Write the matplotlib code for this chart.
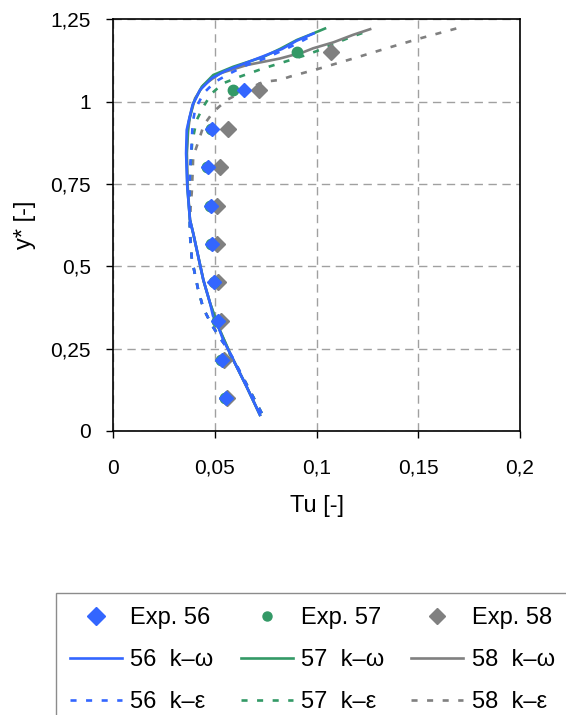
import matplotlib
matplotlib.use("Agg")
import matplotlib.pyplot as plt
from matplotlib.lines import Line2D

plt.rcParams['font.family'] = ['Liberation Sans', 'DejaVu Sans']

# ---------------- data ----------------
y_exp = [0.100, 0.217, 0.334, 0.451, 0.568, 0.684, 0.801, 0.918, 1.035]
y_exp_top = [0.100, 0.217, 0.334, 0.451, 0.568, 0.684, 0.801, 0.918, 1.035, 1.150]

exp56_x = [0.0554, 0.0533, 0.0516, 0.0497, 0.0484, 0.0478, 0.0464, 0.0484, 0.0643]
exp57_x = [0.0550, 0.0529, 0.0512, 0.0493, 0.0480, 0.0474, 0.0460, 0.0480, 0.0590, 0.0905]
exp58_x = [0.0557, 0.0546, 0.0528, 0.0516, 0.0511, 0.0511, 0.0523, 0.0566, 0.0717, 0.1069]

kw56_x = [0.0721, 0.0690, 0.0656, 0.0615, 0.0574, 0.0540, 0.0516, 0.0490, 0.0476, 0.0443,
          0.0418, 0.0393, 0.0377, 0.0364, 0.0358, 0.0361, 0.0374, 0.0390, 0.0426, 0.0484,
          0.0550, 0.0650, 0.0738, 0.0830, 0.0902, 0.0985]
kw56_y = [0.049, 0.090, 0.134, 0.185, 0.236, 0.277, 0.317, 0.350, 0.388, 0.458,
          0.529, 0.600, 0.641, 0.742, 0.843, 0.914, 0.950, 0.990, 1.035, 1.071,
          1.093, 1.117, 1.138, 1.160, 1.185, 1.207]

ke56_x = [0.0730, 0.0690, 0.0640, 0.0590, 0.0545, 0.0525, 0.0484, 0.0443, 0.0418, 0.0402,
          0.0386, 0.0377, 0.0374, 0.0375, 0.0380, 0.0386, 0.0390, 0.0402, 0.0443, 0.0500,
          0.0574, 0.0656, 0.0740, 0.0820, 0.0900, 0.0967, 0.0990]
ke56_y = [0.054, 0.100, 0.160, 0.220, 0.265, 0.281, 0.322, 0.372, 0.427, 0.474,
          0.523, 0.598, 0.679, 0.750, 0.820, 0.880, 0.934, 0.975, 1.025, 1.060,
          1.086, 1.111, 1.130, 1.152, 1.175, 1.197, 1.205]

kw57_x = [0.0721, 0.0656, 0.0574, 0.0516, 0.0476, 0.0443, 0.0418, 0.0393, 0.0377, 0.0364,
          0.0360, 0.0365, 0.0369, 0.0393, 0.0435, 0.0492, 0.0590, 0.0738, 0.0820, 0.0902,
          0.0975, 0.1041]
kw57_y = [0.049, 0.134, 0.236, 0.317, 0.388, 0.458, 0.529, 0.600, 0.641, 0.742,
          0.843, 0.900, 0.934, 0.995, 1.045, 1.081, 1.106, 1.136, 1.160, 1.187,
          1.205, 1.222]

ke57_x = [0.0730, 0.0640, 0.0545, 0.0484, 0.0443, 0.0418, 0.0386, 0.0377, 0.0374, 0.0375,
          0.0382, 0.0388, 0.0410, 0.0443, 0.0484, 0.0541, 0.0623, 0.0738, 0.0869, 0.0940,
          0.1016, 0.1090, 0.1172, 0.1260]
ke57_y = [0.054, 0.160, 0.265, 0.322, 0.372, 0.427, 0.523, 0.598, 0.679, 0.750,
          0.820, 0.878, 0.944, 0.985, 1.025, 1.056, 1.076, 1.101, 1.126, 1.140,
          1.157, 1.177, 1.197, 1.216]

kw58_x = [0.0721, 0.0656, 0.0574, 0.0516, 0.0476, 0.0443, 0.0418, 0.0393, 0.0377, 0.0366,
          0.0362, 0.0368, 0.0377, 0.0402, 0.0443, 0.0525, 0.0656, 0.0820, 0.0934, 0.0983,
          0.1082, 0.1180, 0.1263]
kw58_y = [0.049, 0.134, 0.236, 0.317, 0.388, 0.458, 0.529, 0.600, 0.641, 0.742,
          0.843, 0.914, 0.954, 1.010, 1.050, 1.086, 1.111, 1.131, 1.150, 1.162,
          1.180, 1.203, 1.220]

ke58_x = [0.0730, 0.0640, 0.0545, 0.0484, 0.0443, 0.0418, 0.0386, 0.0377, 0.0380, 0.0386,
          0.0390, 0.0393, 0.0418, 0.0445, 0.0492, 0.0558, 0.0650, 0.0738, 0.0820, 0.0869,
          0.1016, 0.1180, 0.1344, 0.1508, 0.1689]
ke58_y = [0.054, 0.160, 0.265, 0.322, 0.372, 0.427, 0.523, 0.598, 0.679, 0.726,
          0.782, 0.833, 0.878, 0.929, 0.969, 1.005, 1.035, 1.060, 1.066, 1.076,
          1.101, 1.131, 1.162, 1.192, 1.2225]

xticks = [0, 0.05, 0.1, 0.15, 0.2]
xticklabels = ["0", "0,05", "0,1", "0,15", "0,2"]
yticks = [0, 0.25, 0.5, 0.75, 1, 1.25]
yticklabels = ["0", "0,25", "0,5", "0,75", "1", "1,25"]

BLUE = '#3366FF'
GREEN = '#339966'
GRAY = '#808080'

# ---------------- figure ----------------
W, H = 566, 715
fig = plt.figure(figsize=(W / 100, H / 100), dpi=100)
ax = fig.add_axes([113.3 / W, 1 - 431 / H, (520 - 113.3) / W, (431 - 19.3) / H])

lw = 1.9
dash = (0, (2.3, 3.6))

ax.plot(ke58_x, ke58_y, color=GRAY, lw=lw, linestyle=dash, zorder=3)
ax.plot(ke57_x, ke57_y, color=GREEN, lw=lw, linestyle=dash, zorder=3.1)
ax.plot(kw58_x, kw58_y, color=GRAY, lw=lw, zorder=3.2)
ax.plot(kw57_x, kw57_y, color=GREEN, lw=lw, zorder=3.3)
ax.plot(ke56_x, ke56_y, color=BLUE, lw=lw, linestyle=dash, zorder=3.4)
ax.plot(kw56_x, kw56_y, color=BLUE, lw=lw, zorder=3.5)

ax.plot(exp58_x, y_exp_top, linestyle='none', marker='D', ms=8, color=GRAY, mec=GRAY, zorder=4)
ax.plot(exp57_x, y_exp_top, linestyle='none', marker='o', ms=7.5, color=GREEN, mec=GREEN, zorder=4.1)
ax.plot(exp56_x, y_exp, linestyle='none', marker='D', ms=7.3, color=BLUE, mec=BLUE, zorder=4.2)

ax.set_xlim(0, 0.2)
ax.set_ylim(0, 1.25)
ax.set_xticks(xticks)
ax.set_xticklabels(xticklabels)
ax.set_yticks(yticks)
ax.set_yticklabels(yticklabels)
ax.tick_params(axis='both', direction='out', length=5, width=1, labelsize=15, colors='black')
ax.tick_params(axis='x', pad=15)
ax.tick_params(axis='y', pad=11)
ax.grid(True, color='#A0A0A0', linestyle=(0, (6, 4)), linewidth=1)
ax.set_axisbelow(True)
for s in ax.spines.values():
    s.set_color('black')
    s.set_linewidth(1.2)

ax.set_xlabel("Tu [-]", fontsize=17)
ax.set_ylabel("y* [-]", fontsize=17)
ax.xaxis.set_label_coords(0.5, (431 - 495) / (431 - 19.3))
ax.yaxis.set_label_coords((36 - 113.3) / (520 - 113.3), 0.5)

# ---------------- legend ----------------
h_e56 = Line2D([], [], linestyle='none', marker='D', ms=9, color=BLUE)
h_e57 = Line2D([], [], linestyle='none', marker='o', ms=6.5, color=GREEN)
h_e58 = Line2D([], [], linestyle='none', marker='D', ms=8, color=GRAY)
h_w56 = Line2D([], [], color=BLUE, lw=lw)
h_w57 = Line2D([], [], color=GREEN, lw=lw)
h_w58 = Line2D([], [], color=GRAY, lw=lw)
h_k56 = Line2D([], [], color=BLUE, lw=lw, linestyle=dash)
h_k57 = Line2D([], [], color=GREEN, lw=lw, linestyle=dash)
h_k58 = Line2D([], [], color=GRAY, lw=lw, linestyle=dash)

handles = [h_e56, h_w56, h_k56, h_e57, h_w57, h_k57, h_e58, h_w58, h_k58]
labels = ["Exp. 56", "56  k\u2013\u03c9", "56  k\u2013\u03b5",
          "Exp. 57", "57  k\u2013\u03c9", "57  k\u2013\u03b5",
          "Exp. 58", "58  k\u2013\u03c9", "58  k\u2013\u03b5"]
leg = fig.legend(handles, labels, ncol=3, loc='upper left',
                 bbox_to_anchor=(56 / W, 1 - 593 / H), bbox_transform=fig.transFigure,
                 fontsize=17, frameon=True, fancybox=False, shadow=False,
                 handlelength=2.2, handletextpad=0.35, columnspacing=1.15,
                 labelspacing=0.85, borderpad=0.6, borderaxespad=0)
leg.get_frame().set_edgecolor('#707070')
leg.get_frame().set_linewidth(1.0)

fig.savefig("out.png", dpi=100)
